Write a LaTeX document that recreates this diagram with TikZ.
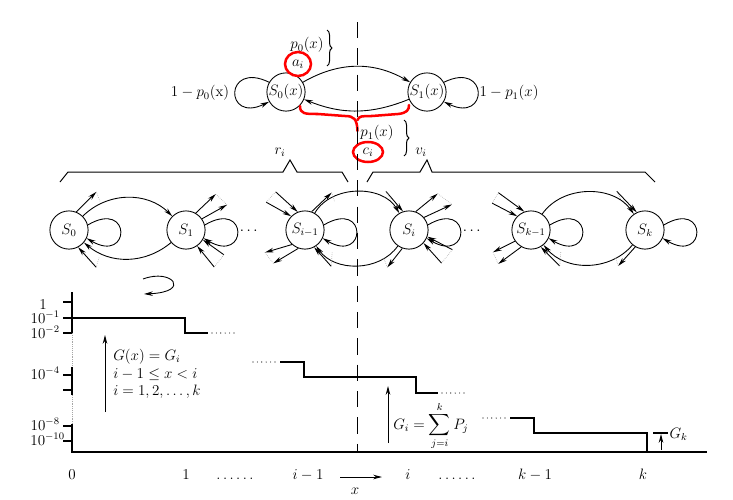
\documentclass[tikz,border=0pt]{standalone}
\usepackage{amsmath,amssymb}
\usetikzlibrary{arrows.meta,positioning,calc,decorations.pathreplacing}

\begin{document}
\begin{tikzpicture}[
    x=0.028cm, y=-0.028cm,
    font=\large,
    >={Stealth[length=7pt,width=3.6pt]},
    state/.style={
        draw,
        circle,
        line width=0.7pt,
        minimum size=1.07cm,
        inner sep=0pt
    },
    arr/.style={->, line width=0.7pt},
    gap/.style={gray!70, densely dotted, line width=0.5pt},
    sparse/.style={line width=0.9pt, line cap=round, dash pattern=on 0pt off 3.5pt},
    stair/.style={line width=0.9pt},
    axisline/.style={line width=0.9pt},
    bracket/.style={line width=0.8pt},
    divider/.style={line width=1.1pt, dash pattern=on 13pt off 8pt},
    pen/.style={red, line width=2pt, line cap=round}
]
\useasboundingbox (0,0) rectangle (733,499);

% two-state chain at the top
\node[state] (top0) at (286,92) {$S_0(x)$};
\node[state] (top1) at (427,92) {$S_1(x)$};
\draw[arr] (top0) to[bend left=30] (top1);
\draw[arr] (top1) to[bend left=22] (top0);
\draw[arr] (top0.150) .. controls +(-45,-22) and +(-45,22) .. (top0.210);
\draw[arr] (top1.30) .. controls +(45,-22) and +(45,22) .. (top1.-30);
\node (stay0) at (200,93) {$1-p_0(\mathrm{x})$};
\node (stay1) at (509,93) {$1-p_1(x)$};
\node (up) at (307,45) {$p_0(x)$};
\node (ai) at (298,64) {$a_i$};
\node (down) at (377,133) {$p_1(x)$};
\node (ci) at (368,152) {$c_i$};
\draw[bracket, decorate, decoration={brace, amplitude=4pt}] (327,30) -- (327,66);
\draw[bracket, decorate, decoration={brace, amplitude=4pt}] (404,120) -- (404,156);

% pen marks
\draw[pen] (ai) ellipse [x radius=13, y radius=12];
\draw[pen] (ci) ellipse [x radius=15, y radius=10];
\draw[pen] (300,106) .. controls (300,114) and (305,114) .. (318,114) -- (345,116)
    .. controls (354,116) and (357,119) .. (357.5,131);
\draw[pen] (357.5,120) .. controls (359,116) and (362,116) .. (372,116) -- (398,114)
    .. controls (407,113) and (409,110) .. (409,105);

% split line
\draw[divider] (357.5,22) -- (357.5,452);

% braces over the long chain
\draw[bracket] (60,182) -- (68,172) -- (283,172) -- (290,160) -- (297,172) -- (342,172) -- (348,182);
\draw[bracket] (367,182) -- (373,172) -- (420,172) -- (427,160) -- (432,172) -- (645,172) -- (655,182);
\node (ri) at (280,152) {$r_i$};
\node (vi) at (421,152) {$v_i$};

% long chain
\node[state] (s0) at (69,230) {$S_0$};
\node[state] (s1) at (186,230) {$S_1$};
\node[state] (si1) at (305,230) {$S_{i-1}$};
\node[state] (si) at (409,230) {$S_i$};
\node[state] (sk1) at (531,230) {$S_{k-1}$};
\node[state] (sk) at (645,230) {$S_k$};
\node (dots1) at (250,231) {$\cdots$};
\node (dots2) at (473,231) {$\cdots$};

\draw[arr] (s0) to[bend left=45] (s1);
\draw[arr] (s1) to[bend left=40] (s0);
\draw[arr] (si1) to[bend left=60] (si);
\draw[arr] (si) to[bend left=55] (si1);
\draw[arr] (sk1) to[bend left=55] (sk);
\draw[arr] (sk) to[bend left=50] (sk1);

\foreach \s in {s0,s1,si1,si,sk1,sk}
    \draw[arr] (\s.15) .. controls +(44,-26) and +(44,26) .. (\s.-25);

% branches to states off the picture
\draw[arr] (s0.68) -- ++(20,-20) coordinate (s0a);
\draw[gap] (s0a) -- ++(4,10);
\draw[arr] ($(s0.-62)+(18,20)$) coordinate (s0b) -- (s0.-62);
\draw[gap] (s0b) -- ++(3,-10);

\draw[arr] (s1.60) -- ++(20,-19) coordinate (s1a);
\draw[arr] (s1.35) -- ++(25,-14) coordinate (s1b);
\draw[gap] (s1a) -- (s1b);
\draw[arr] ($(s1.-30)+(21,15)$) coordinate (s1c) -- (s1.-30);
\draw[arr] ($(s1.-55)+(17,21)$) coordinate (s1d) -- (s1.-55);
\draw[gap] (s1c) -- (s1d);

\draw[arr] ($(si1.112)+(-22,-20)$) coordinate (si1a) -- (si1.112);
\draw[arr] ($(si1.135)+(-25,-14)$) coordinate (si1b) -- (si1.135);
\draw[gap] (si1a) -- (si1b);
\draw[arr] (si1.70) -- ++(20,-19) coordinate (si1c);
\draw[gap] (si1c) -- ++(3,9);
\draw[arr] (si1.228) -- ++(-27,8) coordinate (si1d);
\draw[arr] (si1.250) -- ++(-25,15) coordinate (si1e);
\draw[gap] (si1d) -- (si1e);
\draw[arr] ($(si1.-62)+(17,19)$) coordinate (si1f) -- (si1.-62);
\draw[gap] (si1f) -- ++(1,-14);

\draw[arr] ($(si.108)+(-17,-20)$) coordinate (sia) -- (si.108);
\draw[gap] (sia) -- ++(5,8);
\draw[arr] (si.70) -- ++(22,-18) coordinate (sib);
\draw[arr] (si.40) -- ++(28,-13) coordinate (sic);
\draw[gap] (sib) -- (sic);
\draw[arr] ($(si.-20)+(25,13)$) coordinate (sid) -- (si.-20);
\draw[arr] ($(si.-42)+(18,20)$) coordinate (sie) -- (si.-42);
\draw[gap] (sid) -- (sie);
\draw[arr] (si.250) -- ++(-15,19) coordinate (sif);
\draw[gap] (sif) -- ++(-4,-10);

\draw[arr] ($(sk1.110)+(-26,-19)$) coordinate (sk1a) -- (sk1.110);
\draw[arr] ($(sk1.135)+(-25,-13)$) coordinate (sk1b) -- (sk1.135);
\draw[gap] (sk1a) -- (sk1b);
\draw[arr] (sk1.215) -- ++(-22,11) coordinate (sk1c);
\draw[arr] (sk1.240) -- ++(-23,17) coordinate (sk1d);
\draw[gap] (sk1c) -- (sk1d);
\draw[arr] ($(sk1.-60)+(19,19)$) coordinate (sk1e) -- (sk1.-60);
\draw[gap] (sk1e) -- ++(1,-14);

\draw[arr] ($(sk.115)+(-20,-21)$) coordinate (ska) -- (sk.115);
\draw[gap] (ska) -- ++(4,8);
\draw[arr] (sk.240) -- ++(-17,19) coordinate (skb);
\draw[gap] (skb) -- ++(-3,-9);

% lone turning arrow
\coordinate (swirl0) at (143,279);
\coordinate (swirl1) at (144,294);
\draw[arr] (swirl0) .. controls (172,268) and (192,292) .. (swirl1);

% log axis with breaks
\draw[axisline] (72,292) -- (72,333);
\draw[gap] (72,333) -- (72,367);
\draw[axisline] (72,367) -- (72,395);
\draw[gap] (72,395) -- (72,424);
\draw[axisline] (72,424) -- (72,452) -- (707,452);
\foreach \y in {302,333,375,390,426,441}
    \draw[axisline] (63,\y) -- (72,\y);
\node[anchor=base east, inner sep=0pt] (t0) at (47,309) {$1$};
\node[anchor=base east, inner sep=0pt] (t1) at (60,323) {$10^{-1}$};
\node[anchor=base east, inner sep=0pt] (t2) at (60,338) {$10^{-2}$};
\node[anchor=base east, inner sep=0pt] (t4) at (60,379) {$10^{-4}$};
\node[anchor=base east, inner sep=0pt] (t8) at (60,430) {$10^{-8}$};
\node[anchor=base east, inner sep=0pt] (t10) at (65,445) {$10^{-10}$};

% staircase G(x)
\draw[stair] (63,318) -- (185,318) -- (185,333) -- (208,333);
\draw[sparse] (212,333) -- (235,333);
\draw[sparse] (253,362) -- (277,362);
\draw[stair] (280,362) -- (304,362) -- (304,377) -- (416,377) -- (416,393) -- (438,393);
\draw[sparse] (442,393) -- (468,393);
\draw[sparse] (483,418) -- (507,418);
\draw[stair] (510,418) -- (534,418) -- (534,433) -- (647,433) -- (647,452);

% x labels
\foreach \x/\t/\n in {72/0/a, 186/1/b, 308/i-1/c, 408/i/d, 535/k-1/e, 643/k/f}
    \node[anchor=base] (lab\n) at (\x,479) {$\t$};
\node[anchor=base] (more1) at (235,479) {$\ldots\ldots$};
\node[anchor=base] (more2) at (457,479) {$\ldots\ldots$};
\coordinate (xa) at (340,477);
\coordinate (xb) at (382,477);
\draw[arr] (xa) -- (xb);
\node (xlab) at (355,491) {$x$};

% annotations in the plot
\coordinate (ga) at (105,412);
\coordinate (gb) at (105,335);
\draw[arr] (ga) -- (gb);
\node[anchor=west, align=left, inner sep=0pt] (gdef) at (113,374)
    {$G(x)=G_i$\\ $i-1\le x<i$\\ $i=1,2,\ldots,k$};

\coordinate (gc) at (388,443);
\coordinate (gd) at (388,386);
\draw[arr] (gc) -- (gd);
\node[anchor=west, inner sep=0pt] (gsum) at (393,426) {$\displaystyle G_i=\sum_{j=i}^{k}P_j$};

\draw[axisline] (653,433) -- (668,433);
\coordinate (gk0) at (661,450);
\coordinate (gk1) at (661,434);
\draw[arr] (gk0) -- (gk1);
\node[anchor=west, inner sep=1pt] (gk) at (668,434) {$G_k$};

\end{tikzpicture}
\end{document}
